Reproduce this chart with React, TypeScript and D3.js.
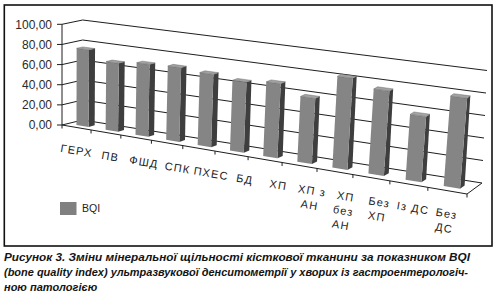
import React from "react";
import * as d3 from "d3";

// ---- data ----
const categories = [
  "ГЕРХ",
  "ПВ",
  "ФШД",
  "СПК",
  "ПХЕС",
  "БД",
  "ХП",
  "ХП з\nАН",
  "ХП\nбез\nАН",
  "Без\nХП",
  "Із ДС",
  "Без\nДС",
];
const bqi = [76, 67, 70, 71, 69, 66, 69, 60, 83, 76, 58, 79];
const yTicks = [0, 20, 40, 60, 80, 100];
const seriesName = "BQI";
const captionLines = [
  "Рисунок 3. Зміни мінеральної щільності кісткової тканини за показником BQI",
  "(bone quality index) ультразвукової денситометрії у хворих із гастроентерологіч-",
  "ною патологією",
];
const captionWidths = [466, 464, 0];

type Pt = [number, number];
const lerp = (a: Pt, b: Pt, t: number): Pt => [a[0] + (b[0] - a[0]) * t, a[1] + (b[1] - a[1]) * t];

export default function App() {
  // projected corners of the 3D box (front/back, bottom/top, left/right)
  const C: Record<string, Pt> = {
    FBL: [62, 125],
    FTL: [62, 24.3],
    BBL: [82.5, 120],
    BTL: [82.7, 20],
    FBR: [467, 194],
    FTR: [478, 78],
    BBR: [482, 183],
    BTR: [487, 70.5],
  };
  const persp = 0.85;
  const uWarp = (u: number) => (persp * u) / (1 + (persp - 1) * u);
  const vScale = d3.scaleLinear().domain([0, 100]).range([0, 1]);
  const band = d3
    .scaleBand<string>()
    .domain(categories)
    .range([0, 1])
    .paddingInner(0.58)
    .paddingOuter(0.29);
  const slot = d3.scaleLinear().domain([0, categories.length]).range([0, 1]);
  const w0 = 0.3,
    w1 = 0.6;

  const proj = (u: number, v: number, w: number): Pt => {
    const s = uWarp(u);
    const t = vScale(v);
    const bf = lerp(C.FBL, C.FBR, s);
    const tf = lerp(C.FTL, C.FTR, s);
    const bb = lerp(C.BBL, C.BBR, s);
    const tb = lerp(C.BTL, C.BTR, s);
    return lerp(lerp(bf, tf, t), lerp(bb, tb, t), w);
  };
  const poly = (pts: Pt[]) => "M" + pts.map((p) => p[0].toFixed(2) + "," + p[1].toFixed(2)).join("L") + "Z";
  const seg = (a: Pt, b: Pt) => `M${a[0].toFixed(2)},${a[1].toFixed(2)}L${b[0].toFixed(2)},${b[1].toFixed(2)}`;
  const fmt = (v: number) => d3.format(".2f")(v).replace(".", ",");

  const labelX = d3
    .scalePoint<string>()
    .domain(categories)
    .range([76, 446]);
  const edgeY = (x: number) => {
    const t = (x - C.FBL[0]) / (C.FBR[0] - C.FBL[0]);
    return lerp(C.FBL, C.FBR, t)[1];
  };
  const angle = (Math.atan2(C.FBR[1] - C.FBL[1], C.FBR[0] - C.FBL[0]) * 180) / Math.PI;

  const gridColor = "#1e1e1e";

  return (
    <svg
      width={499}
      height={298}
      style={{ position: "absolute", left: 0, top: 0, background: "#fff" }}
      fontFamily="'Liberation Sans', Arial, sans-serif"
    >
      <rect x={4.3} y={5} width={487.7} height={241} fill="#fff" stroke="#111" strokeWidth={1.6} />

      {/* walls gridlines */}
      {yTicks.map((v) => (
        <g key={"g" + v}>
          <path d={seg(proj(0, v, 0), proj(0, v, 1))} stroke={gridColor} strokeWidth={1} fill="none" />
          <path d={seg(proj(0, v, 1), proj(1, v, 1))} stroke={gridColor} strokeWidth={1} fill="none" />
          <path
            d={seg([proj(0, v, 0)[0] - 5, proj(0, v, 0)[1]], proj(0, v, 0))}
            stroke={gridColor}
            strokeWidth={1}
          />
          <text
            x={proj(0, v, 0)[0] - 10}
            y={proj(0, v, 0)[1]}
            dy="0.36em"
            textAnchor="end"
            fontSize={12}
            fill="#2a2a2a"
          >
            {fmt(v)}
          </text>
        </g>
      ))}
      {/* value axis */}
      <path d={seg(proj(0, 0, 0), proj(0, 100, 0))} stroke={gridColor} strokeWidth={1} />
      {/* floor edges */}
      <path d={seg(proj(0, 0, 0), proj(1, 0, 0))} stroke={gridColor} strokeWidth={1} />
      <path d={seg(proj(1, 0, 0), proj(1, 0, 1))} stroke={gridColor} strokeWidth={1} />
      {d3.range(categories.length + 1).map((i) => {
        const p = proj(slot(i), 0, 0);
        return <path key={"t" + i} d={seg(p, [p[0], p[1] + 3.5])} stroke={gridColor} strokeWidth={1} />;
      })}

      {/* bars */}
      {categories.map((c, i) => {
        const u0 = band(c)!;
        const u1 = u0 + band.bandwidth();
        const v = bqi[i];
        const front = [proj(u0, 0, w0), proj(u1, 0, w0), proj(u1, v, w0), proj(u0, v, w0)];
        const side = [proj(u1, 0, w0), proj(u1, 0, w1), proj(u1, v, w1), proj(u1, v, w0)];
        const top = [proj(u0, v, w0), proj(u1, v, w0), proj(u1, v, w1), proj(u0, v, w1)];
        return (
          <g key={"b" + i}>
            <path d={poly(side)} fill="#3e3e3e" />
            <path d={poly(front)} fill="#858585" />
            <path d={poly(top)} fill="#a2a2a2" stroke="#555" strokeWidth={0.4} />
          </g>
        );
      })}

      {/* category labels */}
      {categories.map((c) => {
        const x = labelX(c)!;
        const y = edgeY(x) + 27;
        return (
          <text
            key={"l" + c}
            transform={`translate(${x.toFixed(2)},${y.toFixed(2)}) rotate(${angle.toFixed(2)})`}
            textAnchor="middle"
            fontSize={11}
            letterSpacing={1.2}
            fill="#222"
          >
            {c.split("\n").map((ln, k) => (
              <tspan key={k} x={0} y={k * 14.5}>
                {ln}
              </tspan>
            ))}
          </text>
        );
      })}

      {/* legend */}
      <rect x={60} y={202} width={16.5} height={13} fill="#808080" />
      <text x={82} y={208.5} dy="0.36em" fontSize={10.5} fill="#222">
        {seriesName}
      </text>

      {/* caption */}
      {captionLines.map((ln, k) => (
        <text
          key={"c" + k}
          x={4}
          y={261 + k * 15.2}
          fontSize={11}
          fontWeight="bold"
          fontStyle="italic"
          fill="#141414"
          {...(captionWidths[k] ? { textLength: captionWidths[k], lengthAdjust: "spacingAndGlyphs" } : {})}
        >
          {ln}
        </text>
      ))}
    </svg>
  );
}
